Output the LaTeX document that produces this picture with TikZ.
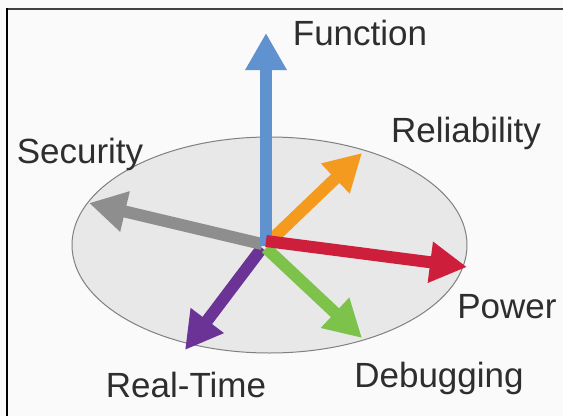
\documentclass[tikz,border=0pt]{standalone}
\usepackage{fontspec}
\setmainfont{Liberation Sans}
\usetikzlibrary{arrows.meta,shapes.geometric}
\definecolor{cfun}{HTML}{5F92CE}
\definecolor{crel}{HTML}{F49A1F}
\definecolor{csec}{HTML}{8E8E8E}
\definecolor{cpow}{HTML}{CD1E3C}
\definecolor{cdeb}{HTML}{7DC24B}
\definecolor{crt}{HTML}{6B3396}
\definecolor{cdisk}{HTML}{E8E8E8}
\definecolor{ctext}{HTML}{2E2E2E}
\tikzset{
  axis/.style={line width=12pt, -{Triangle[length=37pt,width=39pt]}},
  lbl/.style={text=ctext, font=\fontsize{35}{42}\selectfont, inner sep=0pt, anchor=base}
}
\begin{document}
\begin{tikzpicture}[x=1pt,y=-1pt]
\useasboundingbox (0,0) rectangle (563,416);
\fill[white!98!black] (0,0) rectangle (563,416);
\draw[line width=2pt, draw=black!75] (6,9) -- (563,9);
\draw[line width=2pt, draw=black] (7,8) -- (7,416);
% disk
\node[ellipse, minimum width=395pt, minimum height=216pt, fill=cdisk, draw=black!50, line width=1pt, inner sep=0pt] (disk) at (269.5,245) {};
% origins and tips
\coordinate (oF) at (266,246); \coordinate (tF) at (266,33);
\coordinate (oR) at (268,243); \coordinate (tR) at (362,153);
\coordinate (oS) at (262,244); \coordinate (tS) at (89,203);
\coordinate (oP) at (266,241); \coordinate (tP) at (467,267);
\coordinate (oD) at (266,248); \coordinate (tD) at (362,338);
\coordinate (oT) at (262,248); \coordinate (tT) at (185,350);
\draw[axis, crt] (oT) -- (tT);
\draw[axis, cdeb] (oD) -- (tD);
\draw[axis, csec] (oS) -- (tS);
\draw[axis, crel] (oR) -- (tR);
\draw[axis, cfun] (oF) -- (tF);
\draw[axis, cpow] (oP) -- (tP);
% labels
\node[lbl] (lF) at (360,45) {Function};
\node[lbl] (lR) at (466,142) {Reliability};
\node[lbl] (lS) at (80,163) {Security};
\node[lbl] (lP) at (507,318) {Power};
\node[lbl] (lD) at (439,387) {Debugging};
\node[lbl] (lT) at (186,397) {Real-Time};
\end{tikzpicture}
\end{document}
